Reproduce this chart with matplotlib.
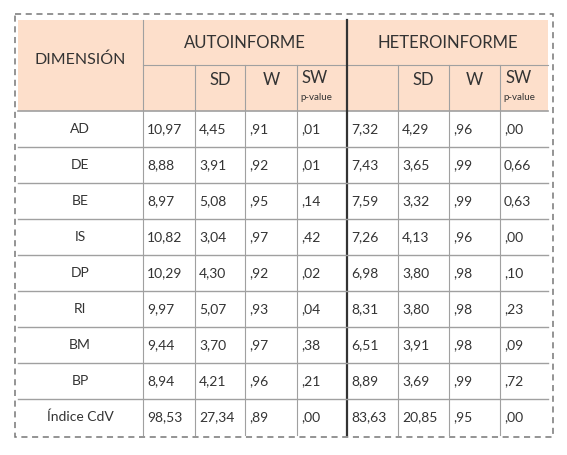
import matplotlib.pyplot as plt
from matplotlib.patches import Rectangle

dims = ["AD", "DE", "BE", "IS", "DP", "RI", "BM", "BP", "Índice CdV"]
auto_mean = ["10,97", "8,88", "8,97", "10,82", "10,29", "9,97", "9,44", "8,94", "98,53"]
auto_sd = ["4,45", "3,91", "5,08", "3,04", "4,30", "5,07", "3,70", "4,21", "27,34"]
auto_w = [",91", ",92", ",95", ",97", ",92", ",93", ",97", ",96", ",89"]
auto_p = [",01", ",01", ",14", ",42", ",02", ",04", ",38", ",21", ",00"]
het_mean = ["7,32", "7,43", "7,59", "7,26", "6,98", "8,31", "6,51", "8,89", "83,63"]
het_sd = ["4,29", "3,65", "3,32", "4,13", "3,80", "3,80", "3,91", "3,69", "20,85"]
het_w = [",96", ",99", ",99", ",96", ",98", ",98", ",98", ",99", ",95"]
het_p = [",00", "0,66", "0,63", ",00", ",10", ",23", ",09", ",72", ",00"]

plt.rcParams['font.family'] = ['Lato', 'DejaVu Sans']
fig = plt.figure(figsize=(5.67, 4.55), dpi=100)
ax = fig.add_axes([0, 0, 1, 1])
ax.set_xlim(0, 567); ax.set_ylim(455, 0); ax.axis('off')

tc = '#333333'
lc = '#a0a0a0'
xs = [18, 143, 195, 245, 297, 347, 398, 449, 500, 548]
ytop, ymid, yhead = 20, 65, 111
rowh = 36
ybot = yhead + rowh * len(dims)

ax.add_patch(Rectangle((18, ytop), 530, yhead - ytop, color='#fddfcb', lw=0))
# dashed outer border
ax.add_patch(Rectangle((15, 14), 538, 423, fill=False, ls=(0, (4, 3)), ec='#777777', lw=1.1))

# header lines
ax.plot([143, 548], [ymid, ymid], color=lc, lw=0.8)
ax.plot([18, 548], [yhead, yhead], color=lc, lw=1.2)
for x in xs[1:-1]:
    y0 = ytop if x in (143, 347) else ymid
    ax.plot([x, x], [y0, ybot], color='#333333' if x == 347 else lc,
            lw=1.6 if x == 347 else 0.8)
for i in range(1, len(dims)):
    y = yhead + i * rowh
    ax.plot([18, 548], [y, y], color=lc, lw=1.0)

ax.text(80, ymid - 5, "DIMENSIÓN", ha='center', va='center', fontsize=11.5, color=tc)
ax.text(245, 43, "AUTOINFORME", ha='center', va='center', fontsize=12, color=tc)
ax.text(448, 43, "HETEROINFORME", ha='center', va='center', fontsize=12, color=tc)
for base in (0, 4):
    ax.text((xs[2+base]+xs[3+base])/2, 80, "SD", ha='center', va='center', fontsize=12, color=tc)
    ax.text((xs[3+base]+xs[4+base])/2, 80, "W", ha='center', va='center', fontsize=12, color=tc)
    ax.text(xs[4+base]+5, 78, "SW", ha='left', va='center', fontsize=12, color=tc)
    ax.text(xs[4+base]+3, 97, "p-value", ha='left', va='center', fontsize=7, color=tc)

cols = [auto_mean, auto_sd, auto_w, auto_p, het_mean, het_sd, het_w, het_p]
for i, d in enumerate(dims):
    yc = yhead + i * rowh + rowh / 2
    ax.text(80, yc, d, ha='center', va='center', fontsize=10, color=tc)
    for j, col in enumerate(cols):
        ax.text(xs[j+1] + 4, yc, col[i], ha='left', va='center', fontsize=10, color=tc)

fig.savefig('out.png', dpi=100, facecolor='white')
